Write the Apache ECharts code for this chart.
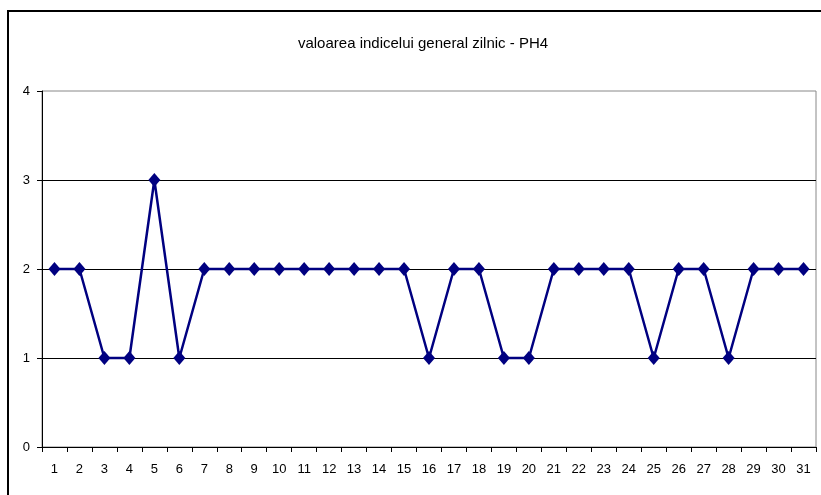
<!DOCTYPE html>
<html>
<head>
<meta charset="utf-8">
<script src="https://cdn.jsdelivr.net/npm/echarts@6/dist/echarts.min.js"></script>
<style>
html,body{margin:0;padding:0;background:#fff;}
#chart{width:821px;height:495px;}
</style>
</head>
<body>
<div id="chart"></div>
<script>
var titleText = 'valoarea indicelui general zilnic - PH4';
var days = ['1','2','3','4','5','6','7','8','9','10','11','12','13','14','15','16','17','18','19','20','21','22','23','24','25','26','27','28','29','30','31'];
var values = [2,2,1,1,3,1,2,2,2,2,2,2,2,2,2,1,2,2,1,1,2,2,2,2,1,2,2,1,2,2,2];
var yTicks = [0,1,2,3,4];

var chart = echarts.init(document.getElementById('chart'), null, {renderer:'canvas'});
var font = 'Liberation Sans, Arial, sans-serif';
chart.setOption({
  animation:false,
  backgroundColor:'#fff',
  title:{
    text:titleText,
    left:418, top:31, textAlign:'center',
    textStyle:{fontFamily:font, fontSize:15, fontWeight:'normal', color:'#000'}
  },
  graphic:[
    {type:'polyline', shape:{points:[[8,495],[8,11],[821,11]]}, style:{stroke:'#000', lineWidth:2, fill:null}, silent:true}
  ],
  grid:{left:42, right:5, top:91, bottom:48, show:true, borderColor:'#888', borderWidth:1, backgroundColor:'transparent'},
  xAxis:{
    type:'category', data:days, boundaryGap:true,
    axisLine:{lineStyle:{color:'#000', width:1}},
    axisTick:{show:true, inside:false, length:5, lineStyle:{color:'#000'}},
    axisLabel:{fontFamily:font, fontSize:13, color:'#000', margin:16, interval:0},
    splitLine:{show:false}
  },
  yAxis:{
    type:'value', min:yTicks[0], max:yTicks[yTicks.length-1], interval:1,
    axisLine:{show:true, lineStyle:{color:'#000', width:1}},
    axisTick:{show:true, inside:false, length:5, lineStyle:{color:'#000'}},
    axisLabel:{fontFamily:font, fontSize:13, color:'#000', margin:12},
    splitLine:{show:true, showMaxLine:false, lineStyle:{color:'#000', width:1}}
  },
  series:[{
    type:'line', data:values,
    symbol:'diamond', symbolSize:[12,14],
    itemStyle:{color:'#000080'},
    lineStyle:{color:'#000080', width:2.5}
  }]
});
</script>
</body>
</html>
